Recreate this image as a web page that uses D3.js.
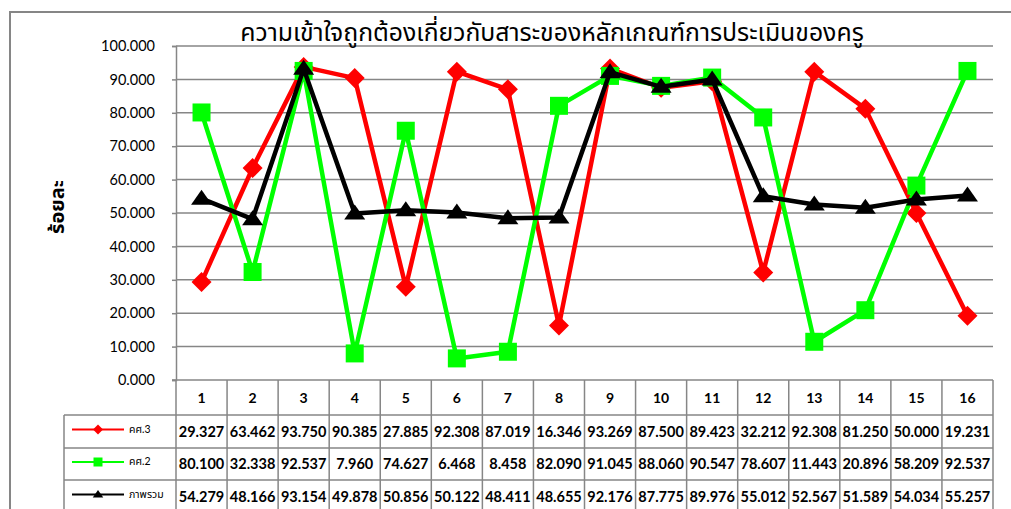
<!DOCTYPE html>
<html>
<head>
<meta charset="utf-8">
<script src="https://cdn.jsdelivr.net/npm/d3@7"></script>
<style>
  body { margin: 0; padding: 0; background: #fff; }
  text { font-family: Lato, "Noto Sans Thai", "Noto Sans", sans-serif; }
</style>
</head>
<body>
<svg width="1011" height="509"></svg>
<script>
  // data
  const categories = ["1","2","3","4","5","6","7","8","9","10","11","12","13","14","15","16"];
  const khs3 = [29.327,63.462,93.750,90.385,27.885,92.308,87.019,16.346,93.269,87.500,89.423,32.212,92.308,81.250,50.000,19.231];
  const khs2 = [80.100,32.338,92.537,7.960,74.627,6.468,8.458,82.090,91.045,88.060,90.547,78.607,11.443,20.896,58.209,92.537];
  const overall = [54.279,48.166,93.154,49.878,50.856,50.122,48.411,48.655,92.176,87.775,89.976,55.012,52.567,51.589,54.034,55.257];
  const seriesNames = ["คศ.3", "คศ.2", "ภาพรวม"];
  const yTicks = [0,10,20,30,40,50,60,70,80,90,100];
  const title = "ความเข้าใจถูกต้องเกี่ยวกับสาระของหลักเกณฑ์การประเมินของครู";
  const yTitle = "ร้อยละ";

  // marker shapes (scale k)
  const diamond = k => `M0,${-10*k}L${10*k},0L0,${10*k}L${-10*k},0Z`;
  const square = k => `M${-9*k},${-9*k}H${9*k}V${9*k}H${-9*k}Z`;
  const triangle = k => `M0,${-9*k}L${10.5*k},${6*k}L${-10.5*k},${6*k}Z`;

  const series = [
    { name: seriesNames[0], values: khs3, color: "#ff0000", shape: diamond },
    { name: seriesNames[1], values: khs2, color: "#00ff00", shape: square },
    { name: seriesNames[2], values: overall, color: "#000000", shape: triangle }
  ];

  const svg = d3.select("svg");
  const pLeft = 176, pRight = 993, pTop = 46, pBottom = 380;
  const grey = "#868686";

  const x = d3.scaleBand().domain(categories).range([pLeft, pRight]);
  const y = d3.scaleLinear().domain([0, 100]).range([pBottom, pTop]);

  // outer frame
  svg.append("path")
    .attr("d", "M10,512 L10,12 L1015,12")
    .attr("fill", "none").attr("stroke", grey).attr("stroke-width", 2);

  // gridlines
  svg.append("g").selectAll("line").data(yTicks.filter(d => d > 0)).enter()
    .append("line")
    .attr("x1", pLeft).attr("x2", pRight)
    .attr("y1", d => y(d)).attr("y2", d => y(d))
    .attr("stroke", grey).attr("stroke-width", 1.5);

  // y axis
  const yAxis = svg.append("g")
    .attr("transform", `translate(${pLeft},0)`)
    .call(d3.axisLeft(y).tickValues(yTicks).tickFormat(d3.format(".3f")).tickSize(4).tickPadding(17));
  yAxis.select(".domain").attr("stroke", grey).attr("stroke-width", 1.5);
  yAxis.selectAll(".tick line").attr("stroke", grey).attr("stroke-width", 1.5);
  yAxis.selectAll(".tick text").attr("font-size", 14.5).attr("fill", "#000")
    .attr("font-family", "Lato, sans-serif");

  // bottom line of plot
  svg.append("line").attr("x1", pLeft - 4).attr("x2", pRight)
    .attr("y1", pBottom).attr("y2", pBottom).attr("stroke", grey).attr("stroke-width", 1.5);

  // titles
  svg.append("text").attr("x", 552).attr("y", 41).attr("text-anchor", "middle")
    .attr("font-size", 24.8).attr("fill", "#000").text(title);
  svg.append("text").attr("transform", "translate(64,207) rotate(-90)")
    .attr("text-anchor", "middle").attr("font-size", 20).attr("font-weight", "bold").text(yTitle);

  // lines and markers
  const line = d3.line().x((d, i) => x(categories[i]) + x.bandwidth() / 2).y(d => y(d));
  series.forEach(s => {
    const g = svg.append("g");
    g.append("path").datum(s.values).attr("d", line)
      .attr("fill", "none").attr("stroke", s.color).attr("stroke-width", 4.5)
      .attr("stroke-linejoin", "round");
    g.selectAll("path.m").data(s.values).enter().append("path").attr("class", "m")
      .attr("transform", (d, i) => `translate(${x(categories[i]) + x.bandwidth() / 2},${y(d)})`)
      .attr("d", s.shape(1))
      .attr("fill", s.color);
  });

  // data table
  const rowTop = [380, 415, 448, 480, 513];
  const legLeft = 64;
  const tg = svg.append("g").attr("stroke", grey).attr("stroke-width", 1.5);
  [415, 448, 480].forEach(yy => tg.append("line").attr("x1", legLeft).attr("x2", pRight).attr("y1", yy).attr("y2", yy));
  tg.append("line").attr("x1", legLeft).attr("x2", legLeft).attr("y1", 415).attr("y2", 513);
  categories.forEach(c => {
    tg.append("line").attr("x1", x(c)).attr("x2", x(c)).attr("y1", rowTop[0]).attr("y2", 513);
  });
  tg.append("line").attr("x1", pRight).attr("x2", pRight).attr("y1", rowTop[0]).attr("y2", 513);

  // header
  svg.append("g").selectAll("text").data(categories).enter().append("text")
    .attr("x", d => x(d) + x.bandwidth() / 2).attr("y", 403)
    .attr("text-anchor", "middle").attr("font-size", 14).attr("font-weight", "bold").text(d => d);

  series.forEach((s, r) => {
    const cy = (rowTop[r + 1] + rowTop[r + 2]) / 2;
    svg.append("g").selectAll("text").data(s.values).enter().append("text")
      .attr("x", (d, i) => x(categories[i]) + x.bandwidth() / 2).attr("y", cy + 5)
      .attr("text-anchor", "middle").attr("font-size", 14.5).attr("font-weight", "bold")
      .text(d => d3.format(".3f")(d));
    // legend key
    svg.append("line").attr("x1", 72).attr("x2", 124).attr("y1", cy - 2).attr("y2", cy - 2)
      .attr("stroke", s.color).attr("stroke-width", 2);
    svg.append("path").attr("transform", `translate(98,${cy - 2})`)
      .attr("d", s.shape(0.5)).attr("fill", s.color);
    svg.append("text").attr("x", 129).attr("y", cy + 1).attr("font-size", 10.5).text(s.name);
  });
</script>
</body>
</html>
